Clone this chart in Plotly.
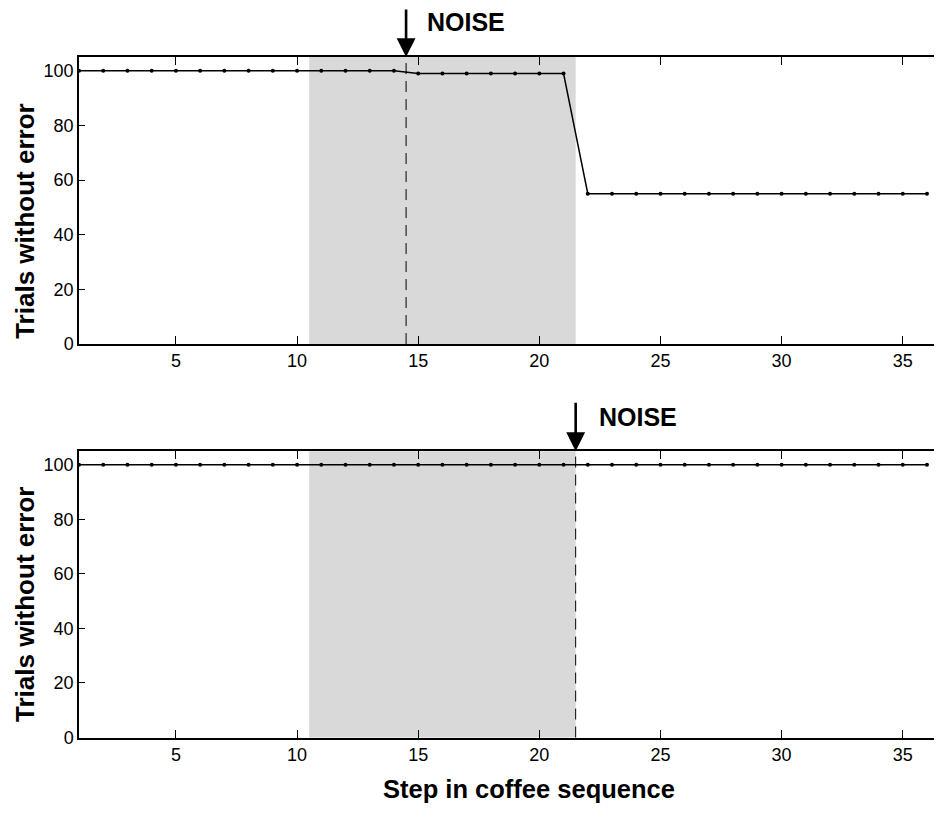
import plotly.graph_objects as go

# ---- data ----
steps = [1, 2, 3, 4, 5, 6, 7, 8, 9, 10, 11, 12, 13, 14, 15, 16, 17, 18,
         19, 20, 21, 22, 23, 24, 25, 26, 27, 28, 29, 30, 31, 32, 33, 34, 35, 36]
top_values = [100, 100, 100, 100, 100, 100, 100, 100, 100, 100, 100, 100, 100, 100,
              99, 99, 99, 99, 99, 99, 99,
              55, 55, 55, 55, 55, 55, 55, 55, 55, 55, 55, 55, 55, 55, 55]
bottom_values = [100, 100, 100, 100, 100, 100, 100, 100, 100, 100, 100, 100,
                 100, 100, 100, 100, 100, 100, 100, 100, 100, 100, 100, 100,
                 100, 100, 100, 100, 100, 100, 100, 100, 100, 100, 100, 100]
noise_window = [10.5, 21.5]
noise_onset_top = 14.5
noise_onset_bottom = 21.5
x_ticks = [5, 10, 15, 20, 25, 30, 35]
y_ticks = [0, 20, 40, 60, 80, 100]
x_range = [1, 36.62]
y_range = [0, 105]

FONT = "Liberation Sans, Arial, Helvetica, sans-serif"

fig = go.Figure()
fig.add_trace(go.Scatter(x=steps, y=top_values, mode="lines+markers",
                         line=dict(color="black", width=1.5),
                         marker=dict(color="black", size=4),
                         xaxis="x", yaxis="y", showlegend=False))
fig.add_trace(go.Scatter(x=steps, y=bottom_values, mode="lines+markers",
                         line=dict(color="black", width=1.5),
                         marker=dict(color="black", size=4),
                         xaxis="x2", yaxis="y2", showlegend=False))

xcommon = dict(range=x_range, tickvals=x_ticks, ticks="inside", ticklen=8,
               tickwidth=1.3, tickcolor="black", showline=True, linecolor="black",
               linewidth=1.5, mirror="ticks", showgrid=False, zeroline=False,
               tickfont=dict(family=FONT, size=18, color="black"))
ycommon = dict(range=y_range, tickvals=y_ticks, ticks="inside", ticklen=6,
               tickwidth=1.3, tickcolor="black", showline=True, linecolor="black",
               linewidth=1.5, mirror=False, showgrid=False, zeroline=False,
               tickfont=dict(family=FONT, size=18, color="black"))

# page body has an 8px margin; the plot runs off the right edge as in the reference
fig.update_layout(
    width=934, height=806,
    margin=dict(l=71, r=0, t=0, b=0),
    paper_bgcolor="white", plot_bgcolor="white",
    xaxis=dict(domain=[0, 1], anchor="y", **xcommon),
    yaxis=dict(domain=[0.5778, 0.9383], anchor="x", **ycommon),
    xaxis2=dict(domain=[0, 1], anchor="y2", **xcommon),
    yaxis2=dict(domain=[0.0835, 0.4433], anchor="x2", **ycommon),
)

# shaded noise windows
for xr, yr in (("x", "y domain"), ("x2", "y2 domain")):
    fig.add_shape(type="rect", xref=xr, yref=yr, x0=noise_window[0], x1=noise_window[1],
                  y0=0, y1=1, fillcolor="#d9d9d9", line=dict(width=0), layer="below")

# dashed onset lines
fig.add_shape(type="line", xref="x", yref="y domain", x0=noise_onset_top, x1=noise_onset_top,
              y0=0, y1=1, line=dict(color="black", width=1, dash="11px,7px"))
fig.add_shape(type="line", xref="x2", yref="y2 domain", x0=noise_onset_bottom, x1=noise_onset_bottom,
              y0=0, y1=1, line=dict(color="black", width=1, dash="11px,7px"))

# arrows
for xr, yr, xv in (("x", "y domain", noise_onset_top), ("x2", "y2 domain", noise_onset_bottom)):
    fig.add_annotation(xref=xr, yref=yr, x=xv, y=1, ax=0, ay=-50, text="",
                       showarrow=True, arrowhead=2, arrowsize=1.45, arrowwidth=2.6,
                       arrowcolor="black", standoff=0)

# NOISE labels
fig.add_annotation(xref="x", yref="y domain", x=15.3, y=1, yshift=35, xanchor="left",
                   yanchor="middle", text="<b>NOISE</b>", showarrow=False,
                   font=dict(family=FONT, size=25, color="black"))
fig.add_annotation(xref="x2", yref="y2 domain", x=22.37, y=1, yshift=34, xanchor="left",
                   yanchor="middle", text="<b>NOISE</b>", showarrow=False,
                   font=dict(family=FONT, size=25, color="black"))

# axis titles
for ypos in (0.7326, 0.2512):
    fig.add_annotation(xref="paper", yref="paper", x=-0.0626, y=ypos, textangle=-90,
                       text="<b>Trials without error</b>", showarrow=False,
                       xanchor="center", yanchor="middle",
                       font=dict(family=FONT, size=26, color="black"))
fig.add_annotation(xref="paper", yref="paper", x=0.522, y=0.0186,
                   text="<b>Step in coffee sequence</b>", showarrow=False,
                   xanchor="center", yanchor="middle",
                   font=dict(family=FONT, size=25.5, color="black"))

fig.write_html("out.html")
